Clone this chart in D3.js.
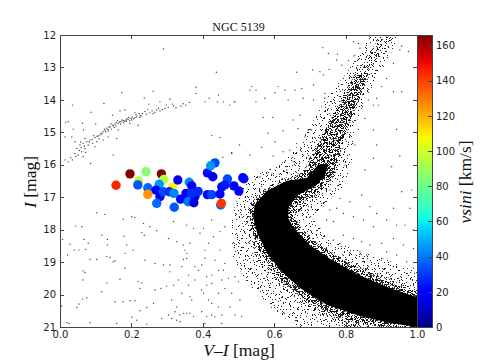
<!DOCTYPE html>
<html>
<head>
<meta charset="utf-8">
<script src="https://cdn.jsdelivr.net/npm/d3@7"></script>
<style>
  html, body { margin: 0; padding: 0; background: #fff; }
  svg { display: block; }
  .axis text { font-family: "DejaVu Sans", sans-serif; font-size: 10px; fill: #222; }
  .axis path, .axis line { stroke: #444; stroke-width: 1; shape-rendering: crispEdges; }
  .label { font-family: "Liberation Serif", "DejaVu Serif", serif; fill: #111; }
</style>
</head>
<body>
<svg id="chart" width="485" height="364"></svg>
<script>
var rotColor = [.157,.196,.241,.220,.218,.246,.246,.284,.291,.278,.316,.330,.269,.280,.289,.306,.319,.271,.320,.338,.353,.362,.369,.359,.375,.378,.369,.387,.413,.425,.448,.453,.469,.462,.413,.428,.434,.422,.487,.501,.512,.515,.450,.452];
var rotMag = [16.63,16.28,16.21,16.50,16.62,16.71,16.91,16.28,16.45,16.60,16.68,16.47,16.78,16.98,16.83,16.83,16.88,17.19,17.31,17.06,16.88,16.54,16.65,17.14,17.17,16.98,16.88,16.82,16.92,16.92,16.90,16.68,16.44,16.62,16.25,16.37,15.94,16.03,16.65,16.81,16.40,16.43,17.24,17.19];
var rotVsini = [145,165,85,95,35,37,125,165,95,45,108,15,18,16,33,28,42,38,35,20,18,43,16,40,15,17,28,28,22,32,18,22,33,25,22,15,33,45,18,20,15,22,38,142];

// the too-dense-to-read sequences are outlines per density level, not single stars
var coreOutline = [[.723,16.00],[.691,16.41],[.635,16.50],[.579,16.81],[.546,17.24],[.541,17.61],[.552,18.10],[.580,18.72],[.616,19.24],[.672,19.80],[.748,20.32],[.840,20.66],[.924,20.88],[1,21],[1,20.08],[.916,19.77],[.832,19.37],[.756,18.90],[.700,18.47],[.658,18.01],[.639,17.64],[.641,17.27],[.667,16.93],[.717,16.65],[.742,16.32],[.751,16.00]];
var heavyOutline = [[.827,13.17],[.797,13.91],[.752,14.71],[.720,15.45],[.688,16.16],[.650,16.45],[.580,16.75],[.537,17.20],[.531,17.64],[.542,18.22],[.570,18.85],[.609,19.42],[.660,19.95],[.735,20.50],[.820,20.85],[.900,21],[1,21],[1,19.95],[.916,19.60],[.832,19.18],[.765,18.75],[.715,18.35],[.675,17.95],[.655,17.55],[.665,17.24],[.722,16.90],[.760,16.47],[.780,15.85],[.800,15.08],[.826,14.31],[.848,13.70],[.865,13.17]];
var mediumOutline = [[.877,12.37],[.826,13.17],[.793,13.91],[.751,14.71],[.714,15.45],[.681,16.22],[.630,16.41],[.566,16.78],[.529,17.24],[.521,17.76],[.532,18.47],[.569,19.18],[.630,19.86],[.714,20.54],[.798,21],[1,21],[1,19.80],[.882,19.31],[.807,18.94],[.734,18.54],[.681,18.13],[.661,17.64],[.695,17.24],[.742,16.78],[.768,16.38],[.784,15.45],[.804,14.71],[.835,13.91],[.860,13.17],[.916,12.37],[.933,12.06],[.896,12.06]];
var lightOutline = [[.868,12.03],[.846,12.46],[.798,13.23],[.742,14.00],[.695,14.93],[.658,15.54],[.616,16.01],[.546,16.32],[.504,16.78],[.482,17.55],[.482,18.78],[.518,19.55],[.588,20.38],[.664,21],[1,21],[1,19.31],[.868,18.72],[.756,18.32],[.706,17.64],[.734,17.33],[.798,16.62],[.818,15.85],[.826,14.78],[.863,13.85],[.910,12.92],[.952,12.06]];

// single stars of the horizontal branch and the upper left
var branchStars = [[.014,15.85],[.023,15.91],[.035,15.85],[.042,15.65],[.051,15.70],[.061,15.60],[.047,15.50],[.056,15.39],[.042,15.29],[.065,15.34],[.070,15.19],[.079,15.39],[.084,15.24],[.091,15.34],[.098,15.16],[.103,15.29],[.107,15.11],[.115,15.03],[.121,14.98],[.126,14.93],[.134,14.91],[.140,14.83],[.147,14.78],[.154,14.74],[.163,14.72],[.171,14.67],[.177,14.64],[.184,14.62],[.191,14.60],[.199,14.57],[.206,14.58],[.215,14.52],[.224,14.48],[.231,14.42],[.238,14.36],[.252,14.40],[.261,14.42],[.271,14.31],[.280,14.34],[.294,14.26],[.303,14.23],[.318,14.19],[.339,14.19],[.352,14.16],[.362,14.08],[.308,13.98],[.280,14.06],[.249,14.13],[.236,13.94],[.261,13.73],[.173,13.78],[.123,14.11],[.087,14.38],[.035,14.16],[.063,14.72],[.100,14.74],[.147,14.47],[.168,14.34],[.182,14.31],[.210,14.40],[.224,14.54],[.219,14.78],[.196,14.72],[.159,15.19],[.163,14.93],[.135,15.14],[.121,15.24],[.098,15.44],[.070,15.50],[.023,14.67],[.016,14.70],[.037,14.90],[.066,14.93],[.014,15.14],[.033,15.14],[.149,15.70],[.065,15.75],[.086,15.96],[.381,13.61],[.381,13.80],[.290,12.43],[.438,13.15],[.418,13.95],[.406,14.06],[.441,14.06],[.458,14.06],[.476,14.16],[.488,14.06],[.444,13.85],[.425,15.10],[.448,15.16],[.503,15.39],[.481,15.65],[.456,15.77],
  [.130,14.87],[.137,14.84],[.150,14.80],[.158,14.70],[.167,14.68],[.174,14.62],[.181,14.66],[.188,14.58],[.195,14.63],[.202,14.53],[.210,14.55],[.112,15.08],[.118,15.05],[.124,14.90],[.144,14.90],[.152,14.85],[.090,15.22],[.075,15.29],[.060,15.47],
  [.128,14.98],[.136,14.96],[.143,14.74],[.156,14.80],[.161,14.64],[.170,14.74],[.178,14.70],[.186,14.66],[.193,14.54],[.201,14.62],[.213,14.46],[.222,14.42],[.228,14.50],[.242,14.44],[.246,14.30],[.258,14.34],[.266,14.38],[.276,14.26],[.287,14.30],[.298,14.16],[.315,14.13],[.325,14.24],[.345,14.12],[.110,15.20],[.104,15.12],[.094,15.10],[.082,15.30],[.068,15.42],[.054,15.56],[.044,15.74],[.030,15.78],[.072,15.62],[.058,15.30]];

// field stars left of the turn-off, below the blue points
var lowerLeftStars = [[.103,17.48],[.126,17.53],[.201,17.60],[.210,17.62],[.177,17.68],[.044,17.89],[.061,17.91],[.117,18.17],[.179,18.20],[.229,18.09],[.236,18.17],[.234,17.81],[.252,17.91],[.271,18.03],[.028,18.45],[.007,18.30],[.067,18.30],[.079,18.42],[.133,18.47],[.133,18.30],[.187,18.47],[.021,18.78],[.040,18.63],[.053,18.63],[.072,18.61],[.131,18.83],[.140,18.85],[.182,18.73],[.205,18.63],[.084,18.92],[.103,18.92],[.154,18.96],[.149,18.99],[.238,18.94],[.182,19.19],[.065,19.27],[.070,19.32],[.064,19.55],[.131,19.64],[.168,19.53],[.219,19.60],[.229,19.64],[.224,19.81],[.266,19.86],[.283,19.81],[.299,19.74],[.318,19.71],[.332,19.55],[.117,19.91],[.075,20.10],[.063,20.14],[.053,20.29],[.047,20.40],[.005,20.35],[.154,20.22],[.177,20.22],[.196,20.19],[.210,20.19],[.224,20.50],[.243,20.40],[.262,20.27],[.019,20.86],[.025,20.89],[.084,20.87],[.159,20.89],[.201,20.70],[.215,20.79],[.243,20.91],[.313,20.17],[.341,19.96],[.364,20.07],[.369,20.17],[.327,20.38],[.304,20.63],[.322,20.53],[.336,20.63],[.346,20.58],[.355,20.58],[.364,20.58],[.313,20.74],[.327,20.79],[.336,20.84],[.285,20.74],[.374,20.68],[.397,20.53],[.411,20.68],[.425,20.63],[.444,20.38],[.434,20.68],[.453,20.63],[.416,20.17],[.425,20.27],[.397,19.86],[.411,19.71],[.425,19.66],[.378,19.55],[.360,19.40],[.341,19.14],[.308,19.09],[.308,19.30],[.290,19.09],[.266,19.04],[.346,18.92],[.355,18.89],[.350,18.63],[.355,18.73],[.327,18.37],[.346,18.47],[.364,18.42],[.304,18.27],[.318,17.75],[.355,17.86],[.374,17.96],[.392,18.11],[.402,17.96],[.425,17.70],[.462,17.91],[.448,18.06],[.416,18.42],[.430,18.22],[.406,18.63],[.434,18.94],[.448,18.63],[.462,19.04],[.458,19.25],[.397,19.09],[.406,18.88],[.388,19.25],[.378,19.14],[.444,19.25],[.425,19.40],[.411,19.45],[.453,19.55],[.472,19.50],[.490,19.45],[.500,19.60],[.462,19.81],[.481,19.96],[.444,19.96],[.402,19.96],[.360,19.71],[.504,20.17],[.476,20.38],[.490,20.63],[.509,20.68],[.453,20.89],[.406,20.89]];

// field stars around the giant branch
var upperRightStars = [[.736,12.39],[.752,12.57],[.777,12.59],[.823,12.65],[.775,12.77],[.808,12.79],[.789,12.93],[.708,13.08],[.663,13.15],[.728,13.13],[.754,13.06],[.738,13.23],[.710,13.54],[.537,13.59],[.532,13.70],[.549,13.70],[.611,13.59],[.602,13.78],[.630,13.70],[.658,13.70],[.677,13.65],[.490,14.06],[.549,14.06],[.574,13.95],[.639,14.00],[.681,13.95],[.710,14.00],[.742,13.80],[.742,13.95],[.569,14.54],[.596,14.54],[.672,14.47],[.653,14.62],[.625,14.95],[.583,15.03],[.602,15.29],[.667,14.88],[.695,14.93],[.705,14.93],[.686,15.14],[.663,15.34],[.565,15.46],[.481,15.63],[.532,15.70],[.597,15.73],[.625,15.60],[.644,15.55],[.653,15.91],[.630,15.91],[.579,16.27],[.560,16.37],[.593,16.29],[.614,16.29],[.635,16.16],[.663,15.96],[.826,12.62],[.840,12.41],[.822,12.21],[.836,12.26],[.957,12.34],[.952,12.46],[.976,12.51],[.934,12.87],[.915,13.34],[.901,13.59],[.887,13.95],[.878,14.16],[.892,14.16],[.934,13.75],[.957,13.75],[.845,14.26],[.864,14.00],[.854,14.57],[.836,14.91],[.878,14.93],[.943,14.91],[.952,15.73],[.887,15.39],[.854,16.16],[.929,16.06],[.826,15.39],[.798,16.01],[.878,15.80]];

// field stars in the gap right of the main sequence
var lowerRightStars = [[.756,16.78],[.784,17.04],[.845,16.93],[.868,17.29],[.887,17.50],[.934,17.34],[.957,16.83],[.985,16.78],[.943,17.86],[.966,17.86],[.990,18.01],[.915,17.70],[.878,17.91],[.850,17.70],[.822,17.60],[.794,17.50],[.766,17.75],[.747,17.70],[.728,17.96],[.766,18.32],[.794,18.17],[.822,18.27],[.845,18.37],[.868,18.47],[.901,18.42],[.934,18.27],[.962,18.47],[.990,18.58],[.915,18.68],[.943,18.78],[.971,18.99],[.901,18.89],[.859,18.78],[.840,18.68],[.990,19.19],[.980,17.34],[.812,17.14],[.775,17.34],[.738,17.19],[.756,17.39]];

var xTicks = [0, 0.2, 0.4, 0.6, 0.8, 1.0];
var yTicks = [12, 13, 14, 15, 16, 17, 18, 19, 20, 21];
var barTicks = [0, 20, 40, 60, 80, 100, 120, 140, 160];
var barMax = 166;

// matplotlib jet, position along the bar and colour
var jetStops = [0, .11, .125, .34, .35, .375, .64, .65, .66, .89, .91, 1];
var jetColors = ["#000080", "#0000ff", "#0000ff", "#00dbff", "#00e6f7", "#14ffe2", "#eeff08", "#f7f600", "#ffec00", "#ff1300", "#e80000", "#800000"];

var margin = {top: 35, left: 60},
    width = 357,
    height = 292,
    barWidth = 15;

var svg = d3.select("#chart");

var x = d3.scaleLinear().domain([0, 1]).range([0, width]);
var y = d3.scaleLinear().domain([12, 21]).range([0, height]);
var barY = d3.scaleLinear().domain([0, barMax]).range([height, 0]);
var jet = d3.scaleLinear().domain(jetStops.map(function(d) { return d * barMax; })).range(jetColors);

var defs = svg.append("defs");

defs.append("clipPath").attr("id", "clip")
  .append("rect").attr("width", width).attr("height", height);

// grain for the outlined density levels: one hand placed tile, shifted per layer
var grain = [[3,7],[11,2],[18,13],[27,4],[34,9],[41,1],[52,6],[60,11],[64,3],[7,19],[14,24],[22,17],[30,21],[38,15],[46,19],[55,23],[63,17],[2,31],[10,36],[19,29],[25,38],[33,30],[43,27],[49,35],[58,29],[65,37],[5,44],[13,49],[21,42],[29,51],[36,44],[44,40],[51,47],[61,42],[8,56],[17,54],[24,47],[39,56],[47,53],[56,57],[66,50],[1,25],[16,6],[31,12],[48,11],[57,16],[12,31],[28,33],[40,35],[53,38],[6,50],[35,53],[60,52],[23,9],[45,31],[37,24],[50,20],[9,12],[20,35],[42,48],[54,44],[32,58],[15,43],[4,38],[62,24],[26,26],[59,35],[47,2]];
var layerShifts = [[0,0],[13,29],[41,7],[23,47],[58,19],[5,37],[32,13],[49,53],[17,3],[61,41],[37,31],[9,23],[27,55],[53,11],[3,49],[44,27],[19,17],[63,33],[31,43],[11,5],[47,39],[25,21],[55,51],[7,15],[39,57],[15,35],[59,1],[35,25],[21,45],[51,9],[1,31],[43,17],[29,37],[65,47],[13,11],[57,27],[33,5],[6,52],[48,33],[22,30]];

layerShifts.forEach(function(s, i) {
  var p = defs.append("pattern")
    .attr("id", "grain" + i)
    .attr("patternUnits", "userSpaceOnUse")
    .attr("width", 67).attr("height", 59)
    .attr("patternTransform", "translate(" + s[0] + "," + s[1] + ")");
  grain.forEach(function(g) {
    p.append("rect").attr("x", g[0]).attr("y", g[1]).attr("width", 1).attr("height", 1)
      .attr("fill", "#000").attr("fill-opacity", 0.85);
  });
});

var focus = svg.append("g")
  .attr("transform", "translate(" + margin.left + "," + margin.top + ")");

var plot = focus.append("g").attr("clip-path", "url(#clip)");

var outline = d3.line()
  .x(function(d) { return x(d[0]); })
  .y(function(d) { return y(d[1]); });

function drawLevel(points, from, to) {
  d3.range(from, to).forEach(function(i) {
    plot.append("path")
      .datum(points)
      .attr("d", function(d) { return outline(d) + "Z"; })
      .attr("fill", "url(#grain" + i + ")");
  });
}

drawLevel(lightOutline, 0, 6);
drawLevel(mediumOutline, 6, 16);
drawLevel(heavyOutline, 16, 40);

plot.append("path")
  .datum(coreOutline)
  .attr("d", function(d) { return outline(d) + "Z"; })
  .attr("fill", "#000");

var fieldStars = branchStars.concat(lowerLeftStars, upperRightStars, lowerRightStars);

plot.selectAll(".star")
    .data(fieldStars)
  .enter().append("circle")
    .attr("class", "star")
    .attr("cx", function(d) { return x(d[0]); })
    .attr("cy", function(d) { return y(d[1]); })
    .attr("r", 0.7)
    .attr("fill", "#000")
    .attr("fill-opacity", 0.75);

plot.selectAll(".rot")
    .data(rotVsini)
  .enter().append("circle")
    .attr("class", "rot")
    .attr("cx", function(d, i) { return x(rotColor[i]); })
    .attr("cy", function(d, i) { return y(rotMag[i]); })
    .attr("r", 4.7)
    .attr("fill", function(d) { return jet(d); });

// ticks point inward on all four sides
focus.append("g").attr("class", "axis")
  .attr("transform", "translate(0," + height + ")")
  .call(d3.axisBottom(x).tickValues(xTicks).tickFormat(d3.format(".1f")).tickSizeInner(-4).tickSizeOuter(0).tickPadding(4));
focus.append("g").attr("class", "axis")
  .call(d3.axisTop(x).tickValues(xTicks).tickFormat("").tickSizeInner(-4).tickSizeOuter(0));
focus.append("g").attr("class", "axis")
  .call(d3.axisLeft(y).tickValues(yTicks).tickFormat(d3.format("d")).tickSizeInner(-4).tickSizeOuter(0).tickPadding(4));
focus.append("g").attr("class", "axis")
  .attr("transform", "translate(" + width + ",0)")
  .call(d3.axisRight(y).tickValues(yTicks).tickFormat("").tickSizeInner(-4).tickSizeOuter(0));

// colorbar
var barGradient = defs.append("linearGradient")
  .attr("id", "jetbar")
  .attr("x1", 0).attr("y1", 1).attr("x2", 0).attr("y2", 0);

barGradient.selectAll("stop")
    .data(jetStops)
  .enter().append("stop")
    .attr("offset", function(d) { return d; })
    .attr("stop-color", function(d, i) { return jetColors[i]; });

var bar = focus.append("g")
  .attr("transform", "translate(" + width + ",0)");

bar.append("rect")
  .attr("width", barWidth)
  .attr("height", height)
  .attr("fill", "url(#jetbar)");

bar.append("g").attr("class", "axis")
  .attr("transform", "translate(" + barWidth + ",0)")
  .call(d3.axisRight(barY).tickValues(barTicks).tickFormat(d3.format("d")).tickSizeInner(-4).tickSizeOuter(0).tickPadding(4));

bar.append("rect")
  .attr("width", barWidth)
  .attr("height", height)
  .attr("fill", "none")
  .attr("stroke", "#444")
  .attr("shape-rendering", "crispEdges");

svg.append("text").attr("class", "label")
  .attr("x", 238.5).attr("y", 31)
  .attr("text-anchor", "middle")
  .attr("font-size", 12)
  .text("NGC 5139");

var xLabel = svg.append("text").attr("class", "label")
  .attr("x", 239).attr("y", 356)
  .attr("text-anchor", "middle")
  .attr("font-size", 17.5);
xLabel.append("tspan").attr("font-style", "italic").text("V\u2013I");
xLabel.append("tspan").text(" [mag]");

var yLabel = svg.append("text").attr("class", "label")
  .attr("transform", "translate(36,182) rotate(-90)")
  .attr("text-anchor", "middle")
  .attr("font-size", 17.5);
yLabel.append("tspan").attr("font-style", "italic").text("I");
yLabel.append("tspan").text(" [mag]");

var barLabel = svg.append("text").attr("class", "label")
  .attr("transform", "translate(471,182) rotate(-90)")
  .attr("text-anchor", "middle")
  .attr("font-size", 17.5);
barLabel.append("tspan").attr("font-style", "italic").text("vsini");
barLabel.append("tspan").text(" [km/s]");
</script>
</body>
</html>
